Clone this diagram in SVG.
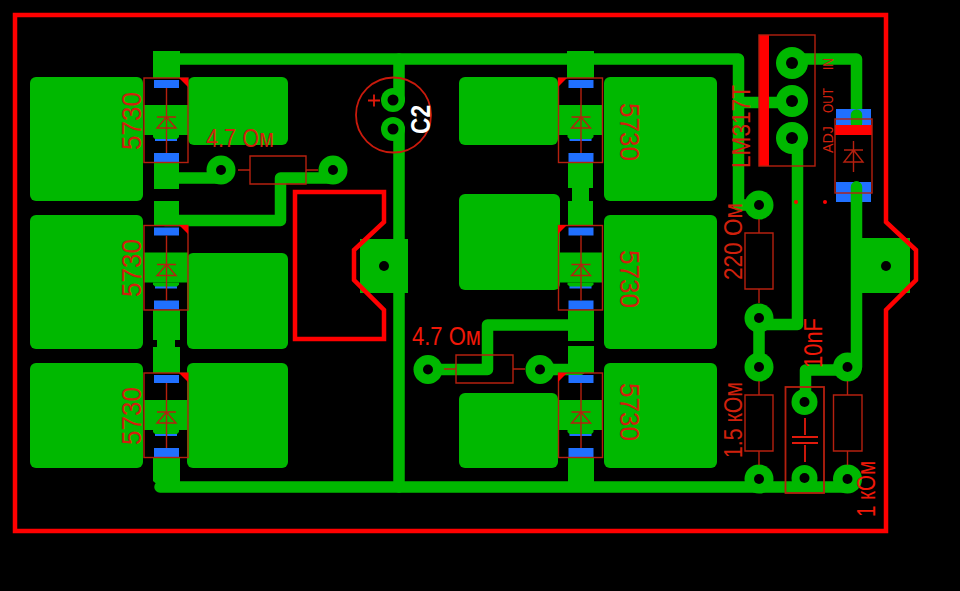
<svg xmlns="http://www.w3.org/2000/svg" width="960" height="591" viewBox="0 0 960 591">
<defs>
<style>
.g{fill:#00b800}
.b{fill:#2070ff}
.r{fill:#ff0000}
.t{fill:none;stroke:#00b800;stroke-width:11.5;stroke-linejoin:round;stroke-linecap:round}
.e{fill:none;stroke:#ff0000;stroke-width:4.5;stroke-linejoin:miter}
.s{fill:none;stroke:#b5200f;stroke-width:1.4}
.h{fill:#000}
text{font-family:"Liberation Sans","DejaVu Sans",sans-serif;fill:#d0200c}
.big{font-size:25px}
.sm{font-size:14px}
.n{font-size:27px}
</style>
<g id="led-l">
<rect class="g" x="0" y="27" width="44" height="30"/>
<path class="g" d="M9,57H35V59L32,62H12L9,59Z"/>
<rect class="b" x="10" y="2" width="25" height="8"/>
<rect class="b" x="10" y="75" width="25" height="9"/>
<rect class="b" x="11" y="61" width="22" height="2"/>
<rect class="s" x="0" y="0" width="44" height="84.500"/>
<path class="s" d="M22.500,10V75M13,39H32M13,50H32L22.500,39Z"/>
</g>
</defs>
<rect width="960" height="591" fill="#000"/>
<g id="connectors">
<path class="t" d="M160,59H738.500V205H759"/>
<path class="t" d="M738.500,102.500H792"/>
<path class="t" d="M792,59H856.500V123"/>
<path class="t" d="M856.500,187V367H847"/>
<path class="t" d="M797.500,140V324.500H759V367"/>
<path class="t" d="M805.500,402V370H847"/>
<path class="t" d="M160,487H847"/>
<path class="t" d="M399,59V100M399,129V487"/>
<path class="t" d="M165,178H221"/>
<path class="t" d="M333,178H280.500V220.500H165"/>
<path class="t" d="M428,369.500H487.500V325H580"/>
<path class="t" d="M540,369.500H580"/>
</g>
<g id="pads">
<rect class="g" x="30" y="77" width="113" height="124" rx="6"/>
<rect class="g" x="30" y="215" width="113" height="134" rx="6"/>
<rect class="g" x="30" y="363" width="113" height="105" rx="6"/>
<rect class="g" x="188" y="77" width="100" height="68" rx="6"/>
<rect class="g" x="187" y="253" width="101" height="96" rx="6"/>
<rect class="g" x="187" y="363" width="101" height="105" rx="6"/>
<rect class="g" x="459" y="77" width="99" height="68" rx="6"/>
<rect class="g" x="459" y="194" width="101" height="96" rx="6"/>
<rect class="g" x="459" y="393" width="99" height="75" rx="6"/>
<rect class="g" x="604" y="77" width="113" height="124" rx="6"/>
<rect class="g" x="604" y="215" width="113" height="134" rx="6"/>
<rect class="g" x="604" y="363" width="113" height="105" rx="6"/>
<rect class="g" x="153" y="51" width="27" height="27"/>
<rect class="g" x="154" y="162" width="25" height="27"/>
<rect class="g" x="154" y="201" width="25" height="24"/>
<path class="g" d="M153,310H180V340H175V347H180V373H153V347H157V340H153Z"/>
<path class="g" d="M153,458H180V487H160L153,481Z"/>
<rect class="g" x="567" y="51" width="27" height="27"/>
<path class="g" d="M568,163H593V188H589V201H593V225H568V201H572V188H568Z"/>
<rect class="g" x="568" y="310" width="26" height="31"/>
<rect class="g" x="568" y="346" width="26" height="27"/>
<rect class="g" x="568" y="458" width="26" height="26"/>
<rect class="g" x="360" y="239" width="48" height="54"/>
<rect class="g" x="862" y="238" width="48" height="55"/>
</g>
<g id="board-outline">
<path class="e" d="M15,15H886V222L916,250V280L886,310V531H15Z"/>
<path class="e" d="M295,192H384V222L354,250V280L384,310V339H295Z"/>
</g>
<g id="holes">
<circle class="h" cx="384" cy="266" r="5"/>
<circle class="h" cx="886" cy="266" r="5"/>
</g>
<g id="led1"><use href="#led-l" x="144" y="78"/><path class="r" d="M179,78H188V87Z"/><text class="n" transform="translate(141,150) rotate(-90)" textLength="58" lengthAdjust="spacingAndGlyphs">5730</text></g>
<g id="led2"><use href="#led-l" x="144" y="225.500"/><path class="r" d="M179,225H188V234Z"/><text class="n" transform="translate(141,297) rotate(-90)" textLength="58" lengthAdjust="spacingAndGlyphs">5730</text></g>
<g id="led3"><use href="#led-l" x="144" y="373"/><path class="r" d="M179,373H188V382Z"/><text class="n" transform="translate(141,445) rotate(-90)" textLength="58" lengthAdjust="spacingAndGlyphs">5730</text></g>
<g id="led4"><use href="#led-l" x="558.500" y="78"/><path class="r" d="M558,78H567L558,87Z"/><text class="n" transform="translate(620,103) rotate(90)" textLength="58" lengthAdjust="spacingAndGlyphs">5730</text></g>
<g id="led5"><use href="#led-l" x="558.500" y="225.500"/><path class="r" d="M558,225H567L558,234Z"/><text class="n" transform="translate(620,250) rotate(90)" textLength="58" lengthAdjust="spacingAndGlyphs">5730</text></g>
<g id="led6"><use href="#led-l" x="558.500" y="373"/><path class="r" d="M558,373H567L558,382Z"/><text class="n" transform="translate(620,383) rotate(90)" textLength="58" lengthAdjust="spacingAndGlyphs">5730</text></g>
<g id="r1">
<circle class="g" cx="221" cy="170" r="14.500"/><circle class="h" cx="221" cy="170" r="5"/>
<circle class="g" cx="333" cy="170" r="14.500"/><circle class="h" cx="333" cy="170" r="5"/>
<path class="s" d="M250,156H306V184H250ZM238,170H250M306,170H318"/>
<text class="big" x="206" y="146.500" textLength="68" lengthAdjust="spacingAndGlyphs">4.7 Ом</text>
</g>
<g id="r2">
<circle class="g" cx="428" cy="369.500" r="14.500"/><circle class="h" cx="428" cy="369.500" r="5"/>
<circle class="g" cx="540" cy="369.500" r="14.500"/><circle class="h" cx="540" cy="369.500" r="5"/>
<path class="s" d="M456,355H513V383H456ZM444,369H456M513,369H525"/>
<text class="big" x="412" y="345" textLength="69" lengthAdjust="spacingAndGlyphs" style="fill:#f01808">4.7 Ом</text>
</g>
<g id="c2">
<circle class="g" cx="393" cy="100" r="12"/><circle class="h" cx="393" cy="100" r="5.500"/>
<circle class="g" cx="393" cy="129" r="12"/><circle class="h" cx="393" cy="129" r="5.500"/>
<circle class="s" cx="393.500" cy="115" r="37.500" style="stroke:#c81a0c;stroke-width:1.800"/>
<path class="s" d="M368,100.500H380M374,94.500V106.500" style="stroke:#e01a0c;stroke-width:1.800"/>
<text transform="translate(430,134) rotate(-90)" textLength="29" lengthAdjust="spacingAndGlyphs" style="fill:#fff;font-size:27px;font-weight:bold">C2</text>
</g>
<g id="lm317">
<circle class="g" cx="792" cy="63" r="16"/><circle class="h" cx="792" cy="63" r="6"/>
<circle class="g" cx="792" cy="101" r="16"/><circle class="h" cx="792" cy="101" r="6"/>
<circle class="g" cx="792" cy="138" r="16"/><circle class="h" cx="792" cy="138" r="6"/>
<rect class="r" x="759" y="35" width="10" height="131"/>
<rect class="s" x="759" y="35" width="56" height="131"/>
<text class="big" transform="translate(750,168) rotate(-90)" textLength="83" lengthAdjust="spacingAndGlyphs">LM317T</text>
<text class="sm" transform="translate(833,70) rotate(-90)" textLength="12" lengthAdjust="spacingAndGlyphs">IN</text>
<text class="sm" transform="translate(833,113) rotate(-90)" textLength="25" lengthAdjust="spacingAndGlyphs">OUT</text>
<text class="sm" transform="translate(833,153) rotate(-90)" textLength="27" lengthAdjust="spacingAndGlyphs">ADJ</text>
</g>
<g id="d1">
<rect class="b" x="836" y="109" width="35" height="16"/>
<rect class="b" x="836" y="182" width="35" height="20"/>
<path class="t" d="M856.500,115V123M856.500,187V202"/>
<rect class="r" x="835" y="125" width="37" height="10"/>
<rect class="s" x="835" y="119" width="37" height="74"/>
<path class="s" d="M853.500,141V172M844,150H863M844,162H863L853.500,150Z"/>
<circle class="r" cx="796" cy="202" r="2"/>
<circle class="r" cx="825" cy="202" r="2"/>
</g>
<g id="r220">
<circle class="g" cx="759" cy="205" r="14.500"/><circle class="h" cx="759" cy="205" r="5"/>
<circle class="g" cx="759" cy="318" r="14.500"/><circle class="h" cx="759" cy="318" r="5"/>
<path class="s" d="M745,233H773V289H745ZM759,219V233M759,289V303"/>
<text class="big" transform="translate(742,280) rotate(-90)" textLength="77" lengthAdjust="spacingAndGlyphs">220 Ом</text>
</g>
<g id="r15k">
<circle class="g" cx="759" cy="367" r="14.500"/><circle class="h" cx="759" cy="367" r="5"/>
<circle class="g" cx="759" cy="479" r="14.500"/><circle class="h" cx="759" cy="479" r="5"/>
<path class="s" d="M745,395H773V451H745ZM759,381V395M759,451V465"/>
<text class="big" transform="translate(742,458) rotate(-90)" textLength="76" lengthAdjust="spacingAndGlyphs">1.5 кОм</text>
</g>
<g id="r1k">
<circle class="g" cx="847.500" cy="367" r="14.500"/><circle class="h" cx="847.500" cy="367" r="5"/>
<circle class="g" cx="847.500" cy="479" r="14.500"/><circle class="h" cx="847.500" cy="479" r="5"/>
<path class="s" d="M833.500,395H862V451H833.500ZM847.500,381V395M847.500,451V465"/>
<text class="big" transform="translate(875,517) rotate(-90)" textLength="56" lengthAdjust="spacingAndGlyphs" style="fill:#f01808">1 кОм</text>
</g>
<g id="c1">
<circle class="g" cx="804.500" cy="402" r="13"/><circle class="h" cx="804.500" cy="402" r="5"/>
<circle class="g" cx="804.500" cy="478" r="13"/><circle class="h" cx="804.500" cy="478" r="5"/>
<rect class="s" x="785.500" y="387" width="38.500" height="106" style="stroke-width:1.800"/>
<path class="s" d="M805,418V435M805,445V462M792,437H818M792,443H818" style="stroke:#e01a0c;stroke-width:1.800"/>
<text class="big" transform="translate(822,368) rotate(-90)" textLength="50" lengthAdjust="spacingAndGlyphs" style="fill:#f01808;font-size:26px">10nF</text>
</g>
</svg>
